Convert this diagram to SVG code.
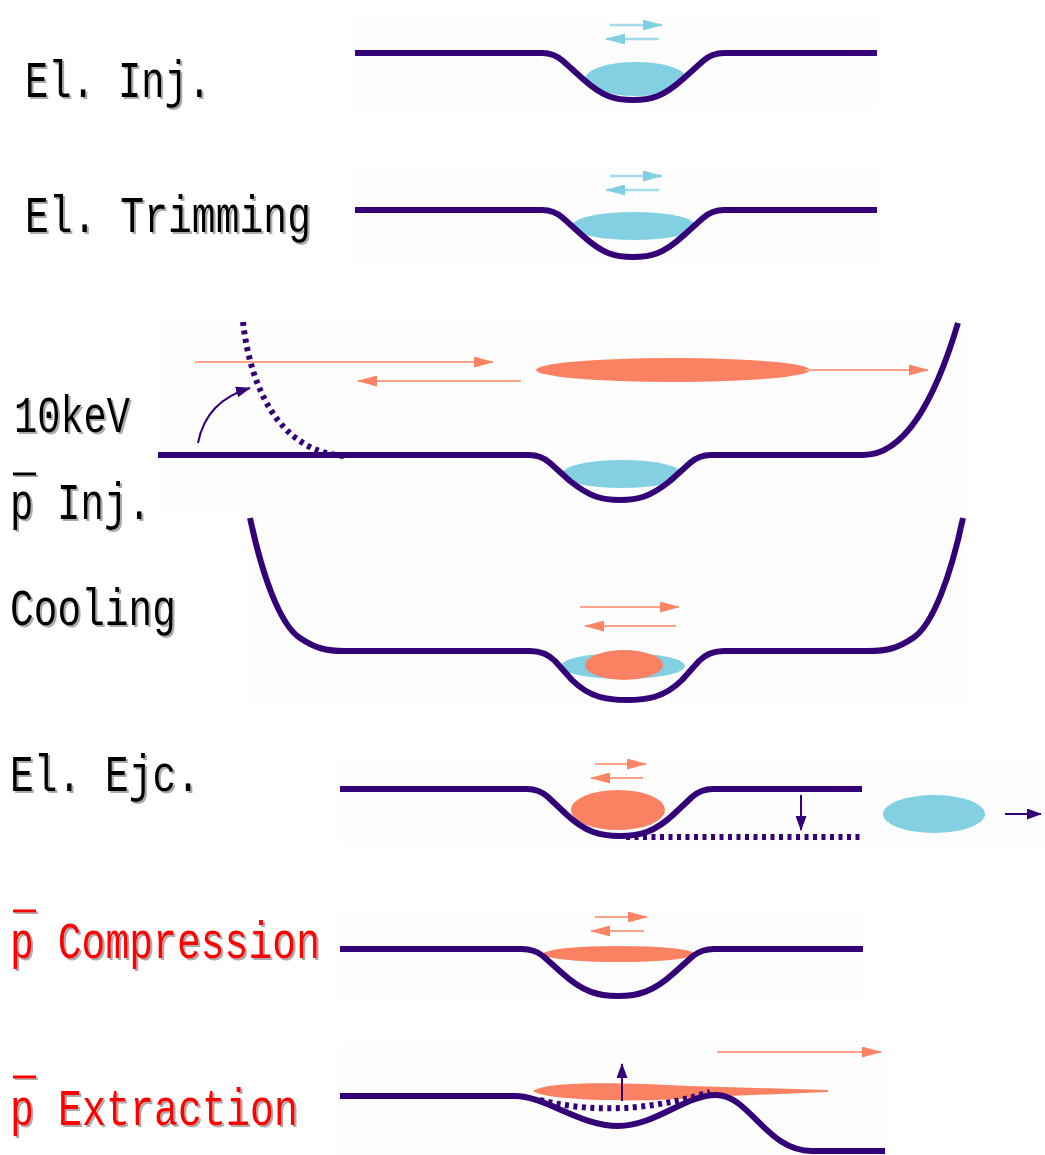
<svg xmlns="http://www.w3.org/2000/svg" width="1045" height="1155" viewBox="0 0 1045 1155">
<style>
.bg{fill:#fdfdfd}
.well{fill:none;stroke:#340078;stroke-width:6;stroke-linejoin:round}
.dots{fill:none;stroke:#340078;stroke-width:6;stroke-dasharray:4 4.5}
.blue{fill:#82d0e2}
.salmon{fill:#fa8262}
.ab{fill:none;stroke:#a6dcea;stroke-width:2.5;marker-end:url(#hb)}
.as{fill:none;stroke:#fca48a;stroke-width:2.2;marker-end:url(#hs)}
.ap{fill:none;stroke:#340078;stroke-width:2;marker-end:url(#hp)}
.lbl{font-family:"Liberation Mono","DejaVu Sans Mono",monospace;font-size:52px;filter:url(#sh)}
.blk{fill:#000}
.red{fill:#ff0000}
</style>
<defs>
<filter id="sh" x="-10%" y="-50%" width="130%" height="200%">
<feDropShadow dx="2" dy="2" stdDeviation="0.6" flood-color="#888" flood-opacity="0.7"/>
</filter>
<marker id="hb" markerUnits="userSpaceOnUse" markerWidth="20" markerHeight="11" refX="19" refY="5.5" orient="auto"><path d="M0,0 L20,5.5 L0,11 Z" fill="#80cfe2"/></marker>
<marker id="hs" markerUnits="userSpaceOnUse" markerWidth="20" markerHeight="11" refX="19" refY="5.5" orient="auto"><path d="M0,0 L20,5.5 L0,11 Z" fill="#fb8465"/></marker>
<marker id="hp" markerUnits="userSpaceOnUse" markerWidth="15" markerHeight="11" refX="14" refY="5.5" orient="auto"><path d="M0,0 L15,5.5 L0,11 Z" fill="#340078"/></marker>
<clipPath id="c1"><path d="M542,53 Q554,53 563,61 L583,79 C603,97 615,100 633,100 C651,100 663,97 683,79 L703,61 Q712,53 724,53 V0 H542 Z"/></clipPath>
<clipPath id="c3"><path d="M529,455 Q541,455 550,463 L570,481 C590,497 602,500 620,500 C638,500 650,497 670,481 L690,463 Q699,455 711,455 V300 H529 Z"/></clipPath>
</defs>
<rect width="1045" height="1155" fill="#fff"/>

<g id="panel-el-inj">
<rect class="bg" x="353" y="20" width="524" height="87"/>
<ellipse class="blue" cx="636" cy="79" rx="51" ry="17" clip-path="url(#c1)"/>
<path class="well" d="M355,53 H542 Q554,53 563,61 L583,79 C603,97 615,100 633,100 C651,100 663,97 683,79 L703,61 Q712,53 724,53 H877"/>
<text class="lbl blk" x="25" y="97" textLength="186" lengthAdjust="spacingAndGlyphs">El. Inj.</text>
</g>

<g id="panel-el-trimming">
<rect class="bg" x="353" y="168" width="524" height="96"/>
<ellipse class="blue" cx="634" cy="226" rx="62" ry="14"/>
<path class="well" d="M355,210 H542 Q554,210 563,218 L583,236 C603,254 615,257 633,257 C651,257 663,254 683,236 L703,218 Q712,210 724,210 H877"/>
<text class="lbl blk" x="25" y="232" textLength="286" lengthAdjust="spacingAndGlyphs">El. Trimming</text>
</g>

<g id="panel-pbar-inj">
<rect class="bg" x="158" y="322" width="808" height="190"/>
<ellipse class="salmon" cx="673" cy="370" rx="137" ry="12"/>
<ellipse class="blue" cx="622" cy="474" rx="60" ry="14" clip-path="url(#c3)"/>
<path class="well" d="M158,455 H529 Q541,455 550,463 L570,481 C590,497 602,500 620,500 C638,500 650,497 670,481 L690,463 Q699,455 711,455 H863 C905,455 935,400 958,323"/>
<path class="dots" d="M243,322 C250,385 278,452 345,456"/>
<text class="lbl blk" x="14" y="432" textLength="116" lengthAdjust="spacingAndGlyphs">10keV</text>
<rect class="blk" x="13" y="472.5" width="23" height="3" filter="url(#sh)"/>
<text class="lbl blk" x="10" y="519" textLength="141" lengthAdjust="spacingAndGlyphs">p Inj.</text>
</g>

<g id="panel-cooling">
<rect class="bg" x="248" y="515" width="718" height="190"/>
<ellipse class="blue" cx="623" cy="666" rx="62" ry="13"/>
<ellipse class="salmon" cx="624" cy="665" rx="39" ry="15"/>
<path class="well" d="M250,518 C262,575 280,625 300,638 C315,648 325,651 345,651 H530 Q545,651 555,661 L572,680 C590,698 608,700 627,700 C646,700 664,698 682,680 L699,661 Q709,651 724,651 H868 C888,651 898,648 913,638 C933,625 951,575 963,518"/>
<text class="lbl blk" x="10" y="625" textLength="166" lengthAdjust="spacingAndGlyphs">Cooling</text>
</g>

<g id="panel-el-ejc">
<rect class="bg" x="340" y="758" width="705" height="85"/>
<ellipse class="salmon" cx="618" cy="810" rx="47" ry="20"/>
<path class="dots" d="M626,837 H862"/>
<path class="well" d="M340,789 H527 Q539,789 548,797 L566,814 C585,832 600,836 620,836 C640,836 655,832 674,814 L692,797 Q701,789 713,789 H862"/>
<ellipse class="blue" cx="934" cy="814" rx="51" ry="19"/>
<text class="lbl blk" x="10" y="791" textLength="190" lengthAdjust="spacingAndGlyphs">El. Ejc.</text>
</g>

<g id="panel-pbar-compression">
<rect class="bg" x="340" y="912" width="523" height="90"/>
<ellipse class="salmon" cx="619" cy="954" rx="76" ry="8"/>
<path class="well" d="M340,949 H522 Q534,949 543,956 L562,973 C583,992 598,996 618,996 C638,996 653,992 674,973 L693,956 Q702,949 714,949 H863"/>
<rect class="red" x="13" y="909.5" width="23" height="3" filter="url(#sh)"/>
<text class="lbl red" x="10" y="958" textLength="310" lengthAdjust="spacingAndGlyphs">p Compression</text>
</g>

<g id="panel-pbar-extraction">
<rect class="bg" x="340" y="1045" width="545" height="110"/>
<path class="salmon" d="M533,1091 C545,1081 620,1082 690,1086 L828,1090 L828,1092 L705,1097 C645,1103 545,1101 533,1091 Z"/>
<path class="dots" d="M540,1100 Q620,1120 710,1092"/>
<path class="well" d="M340,1096 H515 C545,1096 580,1126 618,1126 C655,1126 685,1095 716,1095 C750,1095 766,1151 812,1151 H885"/>
<rect class="red" x="13" y="1075.5" width="23" height="3" filter="url(#sh)"/>
<text class="lbl red" x="10" y="1125" textLength="288" lengthAdjust="spacingAndGlyphs">p Extraction</text>
</g>

<g id="connectors">
<path class="ab" d="M610,25 H662"/>
<path class="ab" d="M659,39 H606"/>
<path class="ab" d="M610,176 H662"/>
<path class="ab" d="M659,190 H606"/>
<path class="as" d="M195,362 H493"/>
<path class="as" d="M521,381 H358"/>
<path class="as" d="M805,370 H928"/>
<path class="ap" d="M198,443 Q206,401 250,388"/>
<path class="as" d="M580,607 H679"/>
<path class="as" d="M676,626 H585"/>
<path class="as" d="M595,764 H646"/>
<path class="as" d="M643,778 H591"/>
<path class="ap" d="M801,795 V830"/>
<path class="ap" d="M1005,814 H1041"/>
<path class="as" d="M595,917 H647"/>
<path class="as" d="M644,931 H591"/>
<path class="ap" d="M622,1101 V1064"/>
<path class="as" d="M717,1052 H881"/>
</g>
</svg>
